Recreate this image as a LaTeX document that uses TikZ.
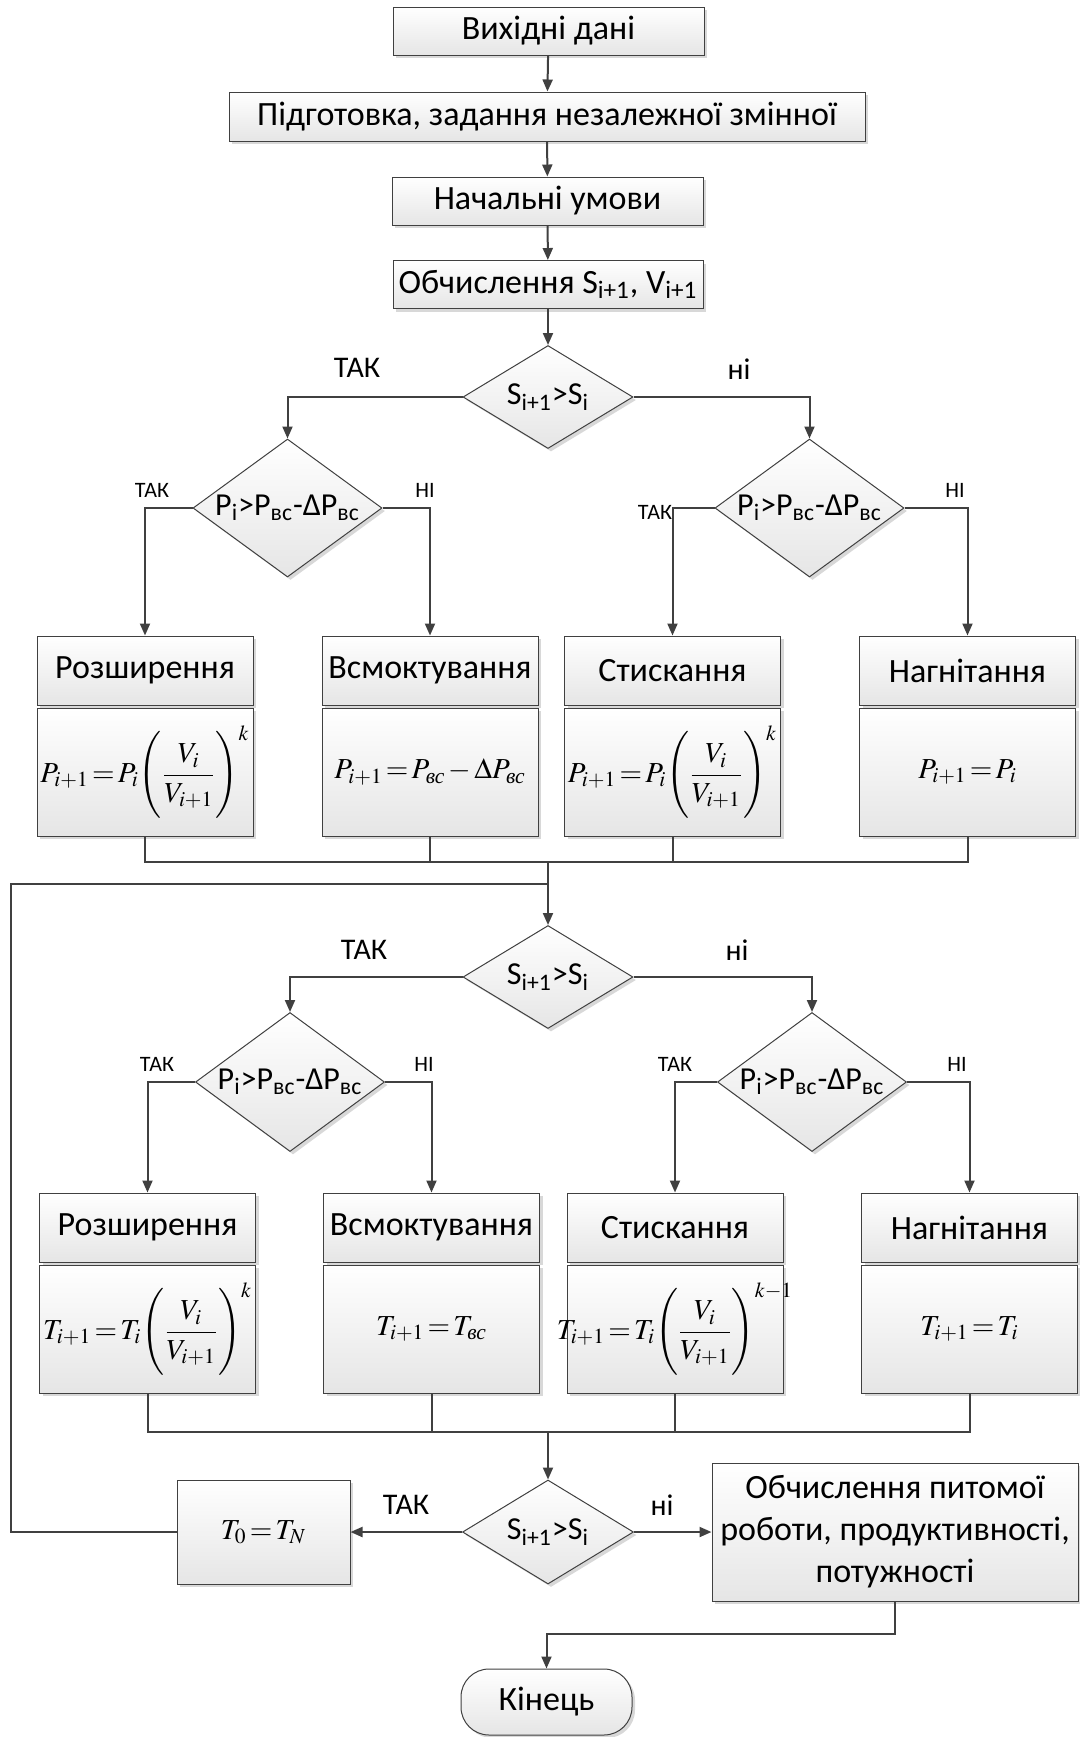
\documentclass[tikz,border=0pt]{standalone}
\usepackage{amsmath}
\usepackage{mathptmx}
\usepackage[no-math]{fontspec}
\setmainfont{Carlito}
\newfontfamily\tmsfont{Liberation Serif}
\usetikzlibrary{positioning, shapes.geometric}
\usetikzlibrary{arrows.meta}
\usetikzlibrary{shadows}

\definecolor{lngray}{HTML}{404040}
\newcommand{\vsc}{\text{\tmsfont\itshape вс}}
\newcommand{\vratio}{\Biggl(\dfrac{V_i}{V_{i+1}}\Biggr)}
\newcommand{\tightmath}{\thickmuskip=2mu\relax\medmuskip=2mu\relax}
\newcommand{\fml}[1]{\makebox[0pt]{$#1$}}

\begin{document}
\begin{tikzpicture}[x=0.5pt, y=-0.5pt,
  box/.style={draw=lngray, line width=0.5pt, top color=white, bottom color=black!10,
    drop shadow={shadow xshift=1.5pt, shadow yshift=-1.5pt, fill=black!30},
    inner sep=0pt, font=\fontsize{17}{20}\selectfont},
  formula/.style={box, font=\fontsize{14.5}{18}\selectfont\tightmath},
  decision/.style={box, diamond, font=\fontsize{16}{19}\selectfont},
  wire/.style={draw=lngray, line width=1pt},
  wirearr/.style={wire, -{Triangle[length=6pt, width=5pt]}},
  lbl/.style={font=\fontsize{15}{18}\selectfont},
  smalllbl/.style={font=\fontsize{11}{13}\selectfont}]
\useasboundingbox (0,0) rectangle (1080,1737);

\def\bw{108pt}
\def\th{34.5pt}
\def\fh{64pt}

\node[box, minimum width=155.5pt, minimum height=24pt] (start) at (548.5,31) {Вихідні дані};
\node[box, minimum width=318pt, minimum height=24.5pt] (prep) at (547,116.5) {Підготовка, задання незалежної змінної};
\node[box, minimum width=155.5pt, minimum height=24pt] (init) at (547.5,201) {Начальні умови};
\node[box, minimum width=155pt, minimum height=24pt] (calc) at (548,284.5) {Обчислення S\textsubscript{i+1}, V\textsubscript{i+1}};

\draw[wirearr] (start) -- (prep);
\draw[wirearr] (prep) -- (init);
\draw[wirearr] (init) -- (calc);

% pressure
\node[decision, minimum width=85pt, minimum height=51.5pt] (d1) at (548,397) {\makebox[0pt]{S\textsubscript{i+1}>S\textsubscript{i}}};
\node[decision, minimum width=94.5pt, minimum height=69pt] (d2) at (287.5,508) {\makebox[0pt]{P\textsubscript{i}>P\textsubscript{вс}-ΔP\textsubscript{вс}}};
\node[decision, minimum width=94.5pt, minimum height=69pt] (d3) at (809.5,508) {\makebox[0pt]{P\textsubscript{i}>P\textsubscript{вс}-ΔP\textsubscript{вс}}};

\draw[wirearr] (calc) -- (d1);
\draw[wirearr] (d1.west) -| (d2.north);
\draw[wirearr] (d1.east) -| (d3.north);
\node[lbl] (y1) at (357,368) {ТАК};
\node[lbl] (n1) at (739,369) {ні};

\node[box, minimum width=\bw, minimum height=\th] (rz1) at (145,670.5) {Розширення};
\node[formula, minimum width=\bw, minimum height=\fh] (rz1f) at (145,772) {\fml{P_{i+1}=P_i\vratio^{k}}};
\node[box, minimum width=\bw, minimum height=\th] (vs1) at (430,670.5) {Всмоктування};
\node[formula, minimum width=\bw, minimum height=\fh] (vs1f) at (430,772) {\fml{P_{i+1}=P_{\vsc}-\Delta P_{\vsc}}};
\node[box, minimum width=\bw, minimum height=\th] (st1) at (672.5,670.5) {Стискання};
\node[formula, minimum width=\bw, minimum height=\fh] (st1f) at (672.5,772) {\fml{P_{i+1}=P_i\vratio^{k}}};
\node[box, minimum width=\bw, minimum height=\th] (ng1) at (967.5,670.5) {Нагнітання};
\node[formula, minimum width=\bw, minimum height=\fh] (ng1f) at (967.5,772) {\fml{P_{i+1}=P_i}};

\draw[wirearr] (d2.west) -| (rz1.north);
\draw[wirearr] (d2.east) -| (vs1.north);
\draw[wirearr] (d3.west) -| (st1.north);
\draw[wirearr] (d3.east) -| (ng1.north);
\node[smalllbl] (y2) at (152,490) {ТАК};
\node[smalllbl] (n2) at (425,490) {НІ};
\node[smalllbl] (y3) at (655,512) {ТАК};
\node[smalllbl] (n3) at (955,490) {НІ};

\coordinate (j1) at (548,862);
\coordinate (lp) at (548,884);
\draw[wire] (rz1f.south) |- (j1) -| (ng1f.south);
\draw[wire] (vs1f.south) -- (vs1f.south |- j1);
\draw[wire] (st1f.south) -- (st1f.south |- j1);

% temperature
\node[decision, minimum width=85pt, minimum height=51.5pt] (d4) at (548,977) {\makebox[0pt]{S\textsubscript{i+1}>S\textsubscript{i}}};
\node[decision, minimum width=94.5pt, minimum height=69.5pt] (d5) at (290,1082) {\makebox[0pt]{P\textsubscript{i}>P\textsubscript{вс}-ΔP\textsubscript{вс}}};
\node[decision, minimum width=94.5pt, minimum height=69.5pt] (d6) at (812,1082) {\makebox[0pt]{P\textsubscript{i}>P\textsubscript{вс}-ΔP\textsubscript{вс}}};

\draw[wirearr] (j1) -- (d4.north);
\draw[wirearr] (d4.west) -| (d5.north);
\draw[wirearr] (d4.east) -| (d6.north);
\node[lbl] (y4) at (364,950) {ТАК};
\node[lbl] (n4) at (737,950) {ні};

\node[box, minimum width=\bw, minimum height=\th] (rz2) at (147.5,1227.5) {Розширення};
\node[formula, minimum width=\bw, minimum height=\fh] (rz2f) at (147.5,1329) {\fml{T_{i+1}=T_i\vratio^{k}}};
\node[box, minimum width=\bw, minimum height=\th] (vs2) at (431.5,1227.5) {Всмоктування};
\node[formula, minimum width=\bw, minimum height=\fh] (vs2f) at (431.5,1329) {\fml{T_{i+1}=T_{\vsc}}};
\node[box, minimum width=\bw, minimum height=\th] (st2) at (675,1227.5) {Стискання};
\node[formula, minimum width=\bw, minimum height=\fh] (st2f) at (675,1329) {\fml{T_{i+1}=T_i\vratio^{k-1}}};
\node[box, minimum width=\bw, minimum height=\th] (ng2) at (969.5,1227.5) {Нагнітання};
\node[formula, minimum width=\bw, minimum height=\fh] (ng2f) at (969.5,1329) {\fml{T_{i+1}=T_i}};

\draw[wirearr] (d5.west) -| (rz2.north);
\draw[wirearr] (d5.east) -| (vs2.north);
\draw[wirearr] (d6.west) -| (st2.north);
\draw[wirearr] (d6.east) -| (ng2.north);
\node[smalllbl] (y5) at (157,1064) {ТАК};
\node[smalllbl] (n5) at (424,1064) {НІ};
\node[smalllbl] (y6) at (675,1064) {ТАК};
\node[smalllbl] (n6) at (957,1064) {НІ};

\coordinate (j2) at (548,1432);
\draw[wire] (rz2f.south) |- (j2) -| (ng2f.south);
\draw[wire] (vs2f.south) -- (vs2f.south |- j2);
\draw[wire] (st2f.south) -- (st2f.south |- j2);

% end of cycle
\node[decision, minimum width=85.5pt, minimum height=52pt] (d7) at (548,1532) {\makebox[0pt]{S\textsubscript{i+1}>S\textsubscript{i}}};
\node[formula, minimum width=86.5pt, minimum height=52pt] (t0) at (263.5,1532) {\fml{T_0=T_N}};
\node[box, minimum width=183pt, minimum height=69pt, align=center, font=\fontsize{17}{21}\selectfont] (res) at (895,1532)
  {Обчислення питомої\\роботи, продуктивності,\\потужності};
\node[box, minimum width=85.5pt, minimum height=33pt, rounded corners=14pt] (kin) at (546.5,1702) {Кінець};

\draw[wirearr] (j2) -- (d7.north);
\draw[wirearr] (d7.west) -- (t0.east);
\draw[wirearr] (d7.east) -- (res.west);
\node[lbl] (y7) at (406,1505) {ТАК};
\node[lbl] (n7) at (662,1505) {ні};

\coordinate (lcorner) at (11,884);
\draw[wire] (t0.west) -| (lcorner) -- (lp);
\draw[wirearr] (res.south) -- ++(0,32) -| (kin.north);

\end{tikzpicture}
\end{document}
